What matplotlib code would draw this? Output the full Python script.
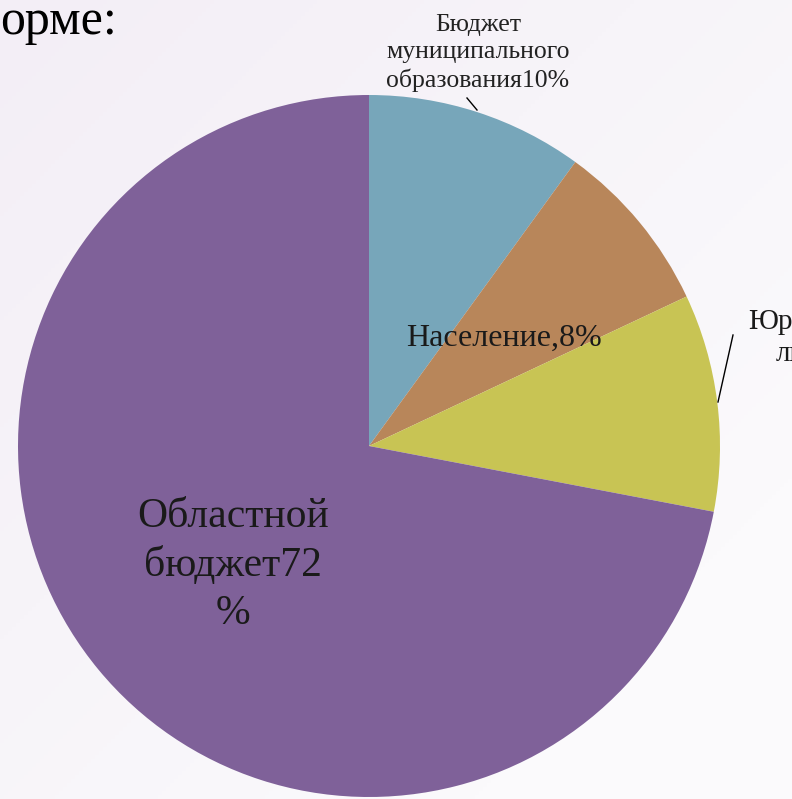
import numpy as np
import matplotlib.pyplot as plt

plt.rcParams['font.family'] = ['Liberation Serif', 'DejaVu Serif']

# slices clockwise from the top
shares = [10, 8, 10, 72]
colors = ['#77A6BA', '#B8865A', '#C8C454', '#7F6199']

W, H = 792, 799
fig = plt.figure(figsize=(W / 100, H / 100), dpi=100)
ax = fig.add_axes([0, 0, 1, 1])

# soft lavender background gradient
yy, xx = np.mgrid[0:1:200j, 0:1:200j]
t = np.clip((xx + yy) / 1.6, 0, 1)[..., None]
c0 = np.array([243, 238, 246]) / 255
c1 = np.array([251, 250, 252]) / 255
ax.imshow(c0 * (1 - t) + c1 * t, extent=[0, W, 0, H], aspect='auto', zorder=0)

ax.pie(shares, colors=colors, startangle=90, counterclock=False,
       center=(369, H - 446), radius=351, frame=True,
       wedgeprops=dict(linewidth=0, zorder=1))
ax.set_xlim(0, W)
ax.set_ylim(0, H)
ax.axis('off')

ax.text(0, H - 22, 'орме:', fontsize=36, ha='left', va='center')

ax.text(478, H - 53, 'Бюджет\nмуниципального\nобразования10%', fontsize=18.5,
        ha='center', va='center', linespacing=1.3, color='#222222')
ax.plot([467, 477], [H - 98, H - 110], color='black', lw=1)

ax.text(504, H - 338, 'Население,8%', fontsize=23, ha='center', va='center',
        color='#1a1a1a')

ax.text(748, H - 338, 'Юридические\nлица,10%', fontsize=21, ha='left',
        multialignment='center', va='center', linespacing=1.3,
        color='#1a1a1a')
ax.plot([733, 718], [H - 335, H - 402], color='black', lw=1)

ax.text(233, H - 565, 'Областной\nбюджет72\n%', fontsize=30, ha='center',
        va='center', linespacing=1.33, color='#1a1a1a')

fig.savefig('out.png', dpi=100)
